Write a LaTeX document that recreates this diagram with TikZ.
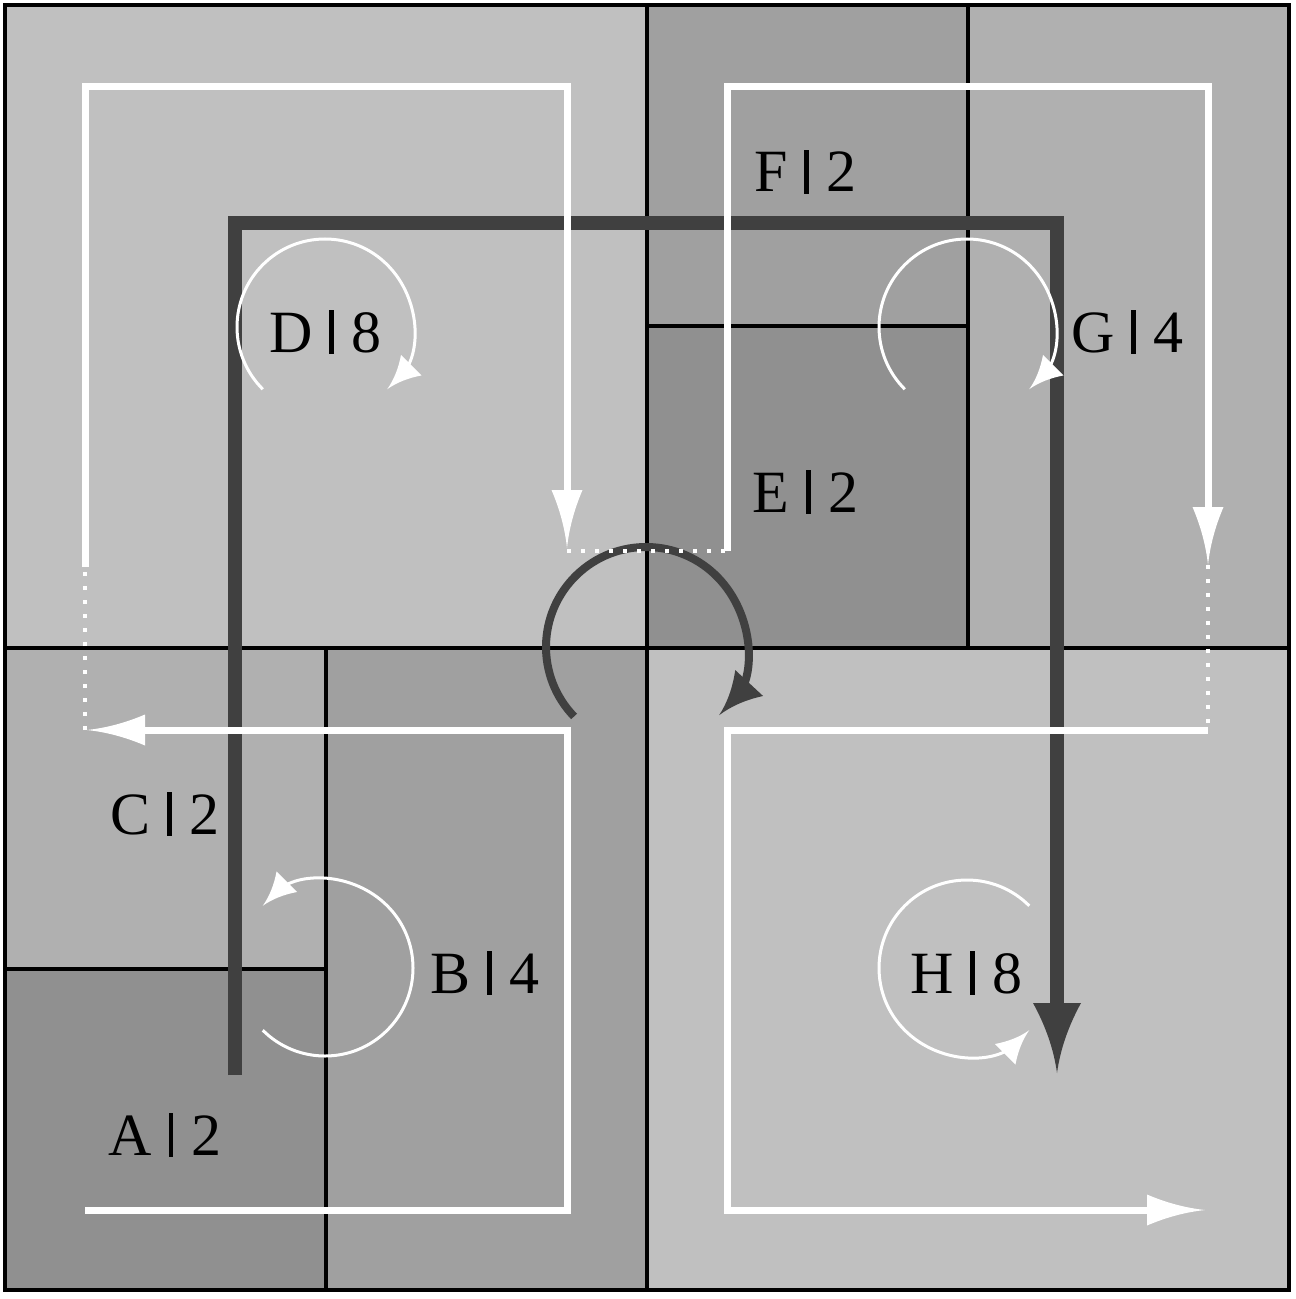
\documentclass[tikz,border=0pt]{standalone}
\usepackage{fontspec}
\setmainfont{Liberation Serif}
\usetikzlibrary{arrows.meta}
\pgfdeclarearrow{
  name = Cv,
  parameters = {\the\pgfarrowlength,\the\pgfarrowwidth},
  setup code = {
    \pgfarrowssettipend{0pt}
    \pgfarrowssetbackend{-\pgfarrowlength}
    \pgfarrowssetlineend{-0.6\pgfarrowlength}
    \pgfarrowssetvisualbackend{-\pgfarrowlength}
    \pgfarrowsupperhullpoint{-\pgfarrowlength}{0.5\pgfarrowwidth}
    \pgfarrowsupperhullpoint{0pt}{0pt}
    \pgfarrowssavethe\pgfarrowlength
    \pgfarrowssavethe\pgfarrowwidth
  },
  drawing code = {
    \pgfpathmoveto{\pgfqpoint{0pt}{0pt}}
    \pgfpathquadraticcurveto{\pgfqpoint{-0.5\pgfarrowlength}{0.1\pgfarrowwidth}}{\pgfqpoint{-\pgfarrowlength}{0.5\pgfarrowwidth}}
    \pgfpathlineto{\pgfqpoint{-\pgfarrowlength}{-0.5\pgfarrowwidth}}
    \pgfpathquadraticcurveto{\pgfqpoint{-0.5\pgfarrowlength}{-0.1\pgfarrowwidth}}{\pgfqpoint{0pt}{0pt}}
    \pgfpathclose
    \pgfusepathqfill
  },
  defaults = {length = 10pt, width = 6pt}
}
\definecolor{gA}{RGB}{192,192,192}
\definecolor{gB}{RGB}{176,176,176}
\definecolor{gC}{RGB}{160,160,160}
\definecolor{gD}{RGB}{144,144,144}
\definecolor{dk}{RGB}{64,64,64}
\newcommand{\lab}[2]{#1\hspace{8.5pt}\rule[-0.8pt]{2.3pt}{22pt}\hspace{9pt}#2}
\begin{document}
\begin{tikzpicture}[x=0.5pt,y=-0.5pt,
  gridline/.style={draw=black,line width=2pt},
  darkpath/.style={draw=dk,line width=7pt,miter limit=10},
  darkarc/.style={draw=dk,line width=4pt},
  wpath/.style={draw=white,line width=3.5pt,miter limit=10},
  wdots/.style={draw=white,line width=2pt,dash pattern=on 2pt off 5pt},
  warc/.style={draw=white,line width=1.5pt},
  lbl/.style={anchor=base,inner sep=0pt,font=\fontsize{30}{36}\selectfont}]
\useasboundingbox (0,0) rectangle (1295,1299);
% regions
\fill[gA] (4.5,5) rectangle (646.75,647.5);
\fill[gC] (646.75,5) rectangle (967.9,326.25);
\fill[gD] (646.75,326.25) rectangle (967.9,647.5);
\fill[gB] (967.9,5) rectangle (1289,647.5);
\fill[gB] (4.5,647.5) rectangle (325.6,968.75);
\fill[gD] (4.5,968.75) rectangle (325.6,1290);
\fill[gC] (325.6,647.5) rectangle (646.75,1290);
\fill[gA] (646.75,647.5) rectangle (1289,1290);
\draw[gridline] (4.5,5) rectangle (1289,1290);
\draw[gridline] (646.75,5) -- (646.75,1290);
\draw[gridline] (4.5,647.5) -- (1289,647.5);
\draw[gridline] (967.9,5) -- (967.9,647.5);
\draw[gridline] (646.75,326.25) -- (967.9,326.25);
\draw[gridline] (325.6,647.5) -- (325.6,1290);
\draw[gridline] (4.5,968.75) -- (325.6,968.75);
% dark path
\draw[darkpath,-{Cv[length=35pt,width=24pt]}] (235,1075) -- (235,223) -- (1057,223) -- (1057,1073);
\draw[darkarc,-{Cv[length=22pt,width=19pt]}] (646,647) ++(136:100) arc[start angle=136,end angle=403,radius=100];
% white arcs
\draw[warc,-{Cv[length=17pt,width=14.5pt]}] (325,327) ++(135:88) arc[start angle=135,end angle=405,radius=88];
\draw[warc,-{Cv[length=17pt,width=14.5pt]}] (967,327) ++(135:88) arc[start angle=135,end angle=405,radius=88];
\draw[warc,-{Cv[length=17pt,width=14.5pt]}] (325,968) ++(135:88) arc[start angle=135,end angle=-135,radius=88];
\draw[warc,-{Cv[length=17pt,width=14.5pt]}] (967,968) ++(-45:88) arc[start angle=-45,end angle=-315,radius=88];
% white path
\draw[wpath,-{Cv[length=29pt,width=15.5pt]}] (85,1210) -- (567,1210) -- (567,730) -- (87,730);
\draw[wdots] (85,730) -- (85,567);
\draw[wpath,-{Cv[length=29pt,width=15.5pt]}] (85,567) -- (85,87) -- (567,87) -- (567,548);
\draw[wdots] (567,551) -- (727,551);
\draw[wpath,-{Cv[length=29pt,width=15.5pt]}] (727,551) -- (727,87) -- (1208,87) -- (1208,565);
\draw[wdots] (1208,565) -- (1208,730);
\draw[wpath,-{Cv[length=29pt,width=15.5pt]}] (1208,730) -- (727,730) -- (727,1210) -- (1205,1210);
% labels
\node[lbl] (A) at (165,1155) {\lab{A}{2}};
\node[lbl] (B) at (485,993) {\lab{B}{4}};
\node[lbl] (C) at (165,834) {\lab{C}{2}};
\node[lbl] (D) at (325.5,352) {\lab{D}{8}};
\node[lbl] (E) at (805.5,512) {\lab{E}{2}};
\node[lbl] (F) at (805.5,192) {\lab{F}{2}};
\node[lbl] (G) at (1127.5,352) {\lab{G}{4}};
\node[lbl] (H) at (966.5,993) {\lab{H}{8}};
\end{tikzpicture}
\end{document}
